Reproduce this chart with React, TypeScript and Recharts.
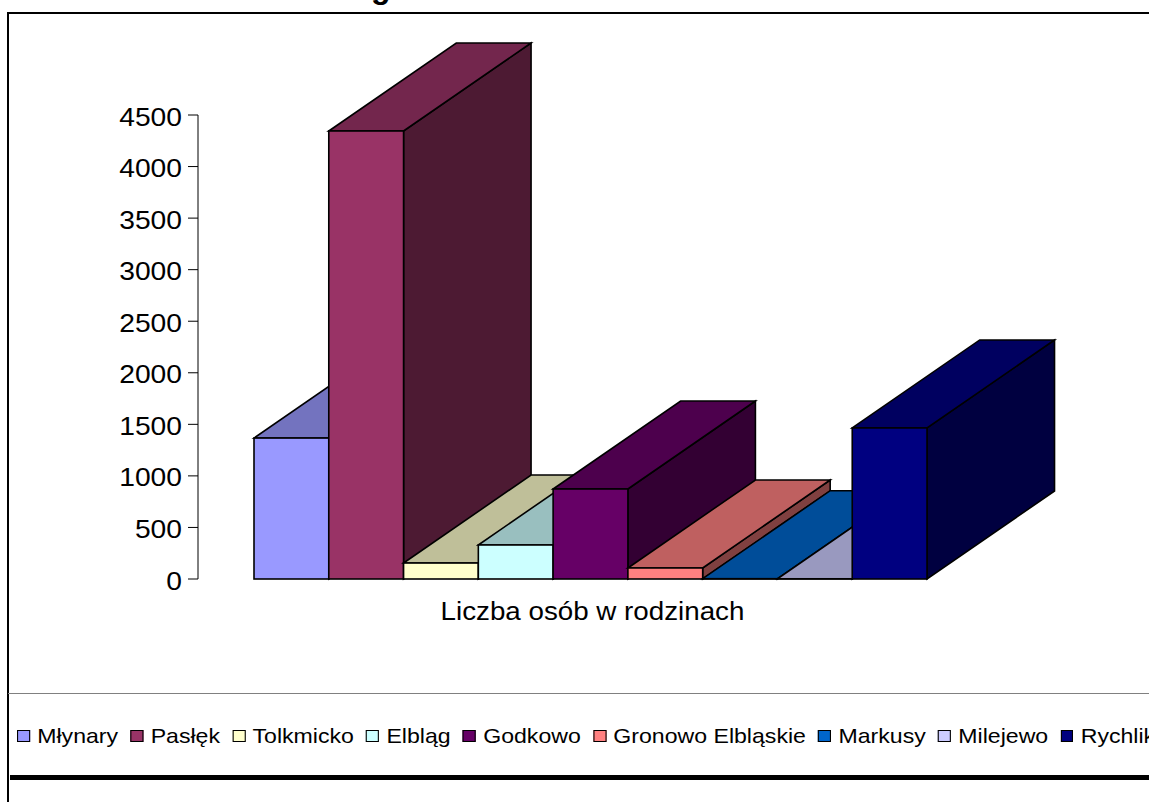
import React from 'react';
import { BarChart, Bar, XAxis, YAxis, Legend } from 'recharts';

const category = 'Liczba osób w rodzinach';
const gminy = ['Młynary', 'Pasłęk', 'Tolkmicko', 'Elbląg', 'Godkowo', 'Gronowo Elbląskie', 'Markusy', 'Milejewo', 'Rychliki'];
const liczbaOsob = [1367, 4345, 155, 330, 873, 107, 3, 2, 1465];
const kolory = ['#9999FF', '#993366', '#FFFFCC', '#CCFFFF', '#660066', '#FF8080', '#0066CC', '#CCCCFF', '#000080'];
const yTicks = [0, 500, 1000, 1500, 2000, 2500, 3000, 3500, 4000, 4500];

const row: Record<string, string | number> = { category };
gminy.forEach((g, i) => {
  row[g] = liczbaOsob[i];
});
const data = [row];

const FONT = '"Liberation Sans", Arial, sans-serif';
const BAR_GAP = 0.78;
const DEPTH_X = 127.5;
const DEPTH_Y = 88;
const LEGEND_STRETCH = 1.1;

// darkens a #rrggbb colour, used for the top and side faces of the boxes
const shade = (hex: string, k: number) => {
  const n = parseInt(hex.slice(1), 16);
  const c = [(n >> 16) & 255, (n >> 8) & 255, n & 255].map((v) => Math.round(v * k));
  return `rgb(${c[0]},${c[1]},${c[2]})`;
};

const Box = (props: any) => {
  const { x, y, width, height, fill } = props;
  const w = width + BAR_GAP;
  const line = { stroke: '#000', strokeWidth: 1.6, strokeLinejoin: 'miter' as const };
  return (
    <g>
      <polygon
        points={`${x + w},${y} ${x + w + DEPTH_X},${y - DEPTH_Y} ${x + w + DEPTH_X},${y + height - DEPTH_Y} ${x + w},${y + height}`}
        fill={shade(fill, 0.5)}
        {...line}
      />
      <polygon
        points={`${x},${y} ${x + DEPTH_X},${y - DEPTH_Y} ${x + w + DEPTH_X},${y - DEPTH_Y} ${x + w},${y}`}
        fill={shade(fill, 0.75)}
        {...line}
      />
      <rect x={x} y={y} width={w} height={height} fill={fill} {...line} />
    </g>
  );
};

// axis text is set a little wider than the font's natural proportions
const YTick = ({ x, y, payload }: any) => (
  <text transform={`translate(${x - 1},${y + 10.5}) scale(1.13,1)`} textAnchor="end" fontFamily={FONT} fontSize={25} fill="#000">
    {payload.value}
  </text>
);

const XTick = ({ x, y, payload }: any) => (
  <text transform={`translate(${x + 2},${y + 41}) scale(1.11,1)`} textAnchor="middle" fontFamily={FONT} fontSize={25} fill="#000">
    {payload.value}
  </text>
);

const LegendRow = ({ payload }: any) => (
  <div
    style={{
      display: 'flex',
      whiteSpace: 'nowrap',
      fontFamily: FONT,
      fontSize: 21,
      color: '#000',
      marginLeft: 17,
      transform: `scaleX(${LEGEND_STRETCH})`,
      transformOrigin: 'left center',
    }}
  >
    {(payload || []).map((p: any) => (
      <span key={p.value} style={{ display: 'flex', alignItems: 'center', marginRight: 11.2 }}>
        <span
          style={{
            boxSizing: 'border-box',
            width: 11.8,
            height: 12,
            background: p.color,
            border: '1.5px solid #000',
            marginRight: 6.6,
          }}
        />
        {p.value}
      </span>
    ))}
  </div>
);

const rule = (style: React.CSSProperties) => <div style={{ position: 'absolute', background: '#000', ...style }} />;

export default function App() {
  return (
    <div style={{ position: 'absolute', left: 0, top: 0, width: 1149, height: 802, overflow: 'hidden', background: '#fff' }}>
      <div style={{ position: 'absolute', left: 371, top: -29, fontFamily: FONT, fontWeight: 700, fontSize: 32, lineHeight: '32px' }}>g</div>
      {rule({ left: 7, top: 12, width: 1142, height: 1.5 })}
      {rule({ left: 7, top: 12, width: 1.5, height: 790 })}
      {rule({ left: 8, top: 693, width: 1141, height: 1, background: '#808080' })}
      {rule({ left: 10, top: 775, width: 1139, height: 5 })}
      <BarChart
        width={1149}
        height={802}
        data={data}
        margin={{ top: 115, right: 166, left: 118, bottom: 0 }}
        barCategoryGap={56}
        barGap={BAR_GAP}
        style={{ position: 'absolute', left: 0, top: 0 }}
      >
        <XAxis dataKey="category" height={223} axisLine={false} tickLine={false} tickSize={0} tickMargin={0} tick={<XTick />} />
        <YAxis
          width={80}
          domain={[0, 4500]}
          ticks={yTicks}
          interval={0}
          tickSize={10}
          tickMargin={5}
          axisLine={{ stroke: '#000' }}
          tickLine={{ stroke: '#000' }}
          tick={<YTick />}
        />
        <Legend
          layout="horizontal"
          verticalAlign="middle"
          itemSorter={null}
          wrapperStyle={{ top: 724, left: 0, width: 1149 }}
          content={<LegendRow />}
        />
        {gminy.map((g, i) => (
          <Bar key={g} dataKey={g} name={g} fill={kolory[i]} shape={<Box />} isAnimationActive={false} />
        ))}
      </BarChart>
    </div>
  );
}
